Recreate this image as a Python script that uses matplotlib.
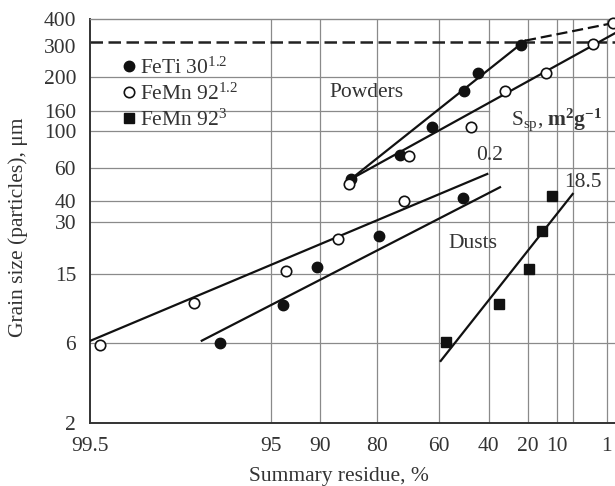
import numpy as np
import matplotlib
matplotlib.use("Agg")
from matplotlib import pyplot as plt
from matplotlib.lines import Line2D
from matplotlib.transforms import offset_copy

plt.rcParams['font.family'] = ['Liberation Serif', 'DejaVu Serif']
plt.rcParams['mathtext.fontset'] = 'custom'
plt.rcParams['mathtext.rm'] = 'Liberation Serif'
plt.rcParams['mathtext.it'] = 'Liberation Serif:italic'
plt.rcParams['mathtext.bf'] = 'Liberation Serif:bold'

# axis ticks (summary residue %, grain size um)
x_ticks = [99.5, 95, 90, 80, 60, 40, 20, 10, 5, 1]
x_labels = ['99.5', '95', '90', '80', '60', '40', '20', '10', '', '1']
y_ticks = [2, 6, 15, 30, 40, 60, 100, 160, 200, 300, 400]

# FeTi 30 (filled circles)
feti_pow_r = [85.3, 73.7, 62.8, 50.2, 44.7, 23.6]
feti_pow_d = [52.3, 71.6, 110.6, 182, 208, 289.5]
feti_dust_r = [97.37, 94.07, 90.45, 79.37, 50.85]
feti_dust_d = [6.05, 9.9, 16.5, 25.1, 41.6]

# FeMn 92 (open circles)
femn_pow_r = [85.6, 70.8, 47.5, 31.5, 13.5, 2.07]
femn_pow_d = [49.2, 70.9, 109, 182, 208, 293]
femn_dust_r = [99.43, 98.11, 93.79, 87.44, 72.42]
femn_dust_d = [5.86, 10.2, 15.7, 23.9, 40.1]

# FeMn 92^3 (squares)
sq_r = [57.33, 34.62, 19.60, 14.65, 11.33]
sq_d = [6.13, 10.1, 16.1, 26.7, 42.5]

# fitted lines (residue, size) end points
feti_pow_line = ([85.3, 21.5], [52.3, 305])
feti_pow_extra = ([21.5, 0.68], [305, 380])
femn_pow_line = ([85.3, 0.595], [52.3, 335])
femn_dust_line = ([99.5, 40.6], [6.19, 55.6])
feti_dust_line = ([97.91, 34.09], [6.21, 47.3])
sq_line = ([59.28, 5.14], [4.71, 43.6])

# the printed grid is not evenly spaced: map ticks to their measured places
X_POS = [0, 180.7, 230, 286.7, 348.7, 398.7, 438.3, 466.7, 483.3, 516.7]
Y_POS = [0, 80, 149.3, 201, 222.3, 255.6, 292.3, 312.3, 346.6, 381.3, 404.3]


def _lin(u, xp, fp):
    u = np.asarray(u, dtype=float)
    xp = np.asarray(xp, float)
    fp = np.asarray(fp, float)
    out = np.interp(u, xp, fp)
    s0 = (fp[1] - fp[0]) / (xp[1] - xp[0])
    s1 = (fp[-1] - fp[-2]) / (xp[-1] - xp[-2])
    out = np.where(u < xp[0], fp[0] + (u - xp[0]) * s0, out)
    out = np.where(u > xp[-1], fp[-1] + (u - xp[-1]) * s1, out)
    return out


def _rr(r):
    r = np.clip(np.asarray(r, dtype=float), 1e-6, 99.9999)
    return np.log(np.log(100.0 / r))


X_T = _rr(x_ticks)
Y_L = np.log(y_ticks)


# increasing in residue (matplotlib expects monotonic increasing scales)
def x_fwd(r):
    return -_lin(_rr(r), X_T, X_POS)


def x_inv(p):
    return 100.0 * np.exp(-np.exp(_lin(-np.asarray(p, float), X_POS, X_T)))


def y_fwd(v):
    v = np.clip(np.asarray(v, dtype=float), 1e-6, None)
    return _lin(np.log(v), Y_L, Y_POS)


def y_inv(p):
    return np.exp(_lin(p, Y_POS, Y_L))


fig = plt.figure(figsize=(6.15, 4.86), dpi=100)
ax = fig.add_axes([90 / 615, 62.7 / 486, 525 / 615, 404.3 / 486])
ax.set_xscale('function', functions=(x_fwd, x_inv))
ax.set_yscale('function', functions=(y_fwd, y_inv))
ax.set_xlim(99.5, 0.595)
ax.set_ylim(2, 400)

grid_c = '#8a8a8a'
for r in x_ticks[1:]:
    ax.axvline(r, color=grid_c, lw=0.9, zorder=1)
for d in [6, 15, 30, 40, 60, 100, 200]:
    ax.axhline(d, color=grid_c, lw=0.9, zorder=1)
ax.plot([99.5, 40], [160, 160], color=grid_c, lw=0.9, zorder=1)
ax.axhline(300, color='#222222', lw=1.8, ls=(0, (5, 2.2)), zorder=2)

ax.set_xticks(x_ticks)
ax.set_xticklabels(x_labels)
ax.set_yticks(y_ticks)
ax.set_yticklabels([str(v) for v in y_ticks])
ax.minorticks_off()
ax.tick_params(length=0, labelsize=15.5, labelcolor='#333333')
ax.tick_params(axis='x', pad=10)
ax.tick_params(axis='y', pad=10)

# printed label for 300 sits a little below the dashed line
for lbl in ax.get_yticklabels():
    if lbl.get_text() == '300':
        lbl.set_transform(offset_copy(lbl.get_transform(), fig=fig, y=-4, units='dots'))

ax.spines['right'].set_visible(False)
ax.spines['top'].set_color(grid_c)
ax.spines['top'].set_linewidth(1.0)
for s in ['left', 'bottom']:
    ax.spines[s].set_color('#333333')
    ax.spines[s].set_linewidth(1.4)

lw = 1.6
for xs, ys in [feti_pow_line, femn_pow_line, femn_dust_line, feti_dust_line, sq_line]:
    ax.plot(xs, ys, color='#111111', lw=lw, zorder=3)
ax.plot(*feti_pow_extra, color='#111111', lw=1.6, ls=(0, (5, 2.2)), zorder=3)

filled = dict(marker='o', ls='none', ms=7.5, color='#111111', zorder=4)
hollow = dict(marker='o', ls='none', ms=7.5, mfc='white', mec='#111111', mew=1.2, zorder=5)
square = dict(marker='s', ls='none', ms=6.8, color='#111111', zorder=4)

ax.plot(feti_pow_r, feti_pow_d, **filled)
ax.plot(feti_dust_r, feti_dust_d, **filled)
ax.plot(femn_pow_r, femn_pow_d, **hollow)
ax.plot(femn_dust_r, femn_dust_d, **hollow)
ax.plot([0.68], [380], clip_on=False, **hollow)
ax.plot(sq_r, sq_d, **square)

handles = [
    Line2D([], [], **filled),
    Line2D([], [], **hollow),
    Line2D([], [], **square),
]
labels = [r'FeTi 30$^\mathregular{1.2}$', r'FeMn 92$^\mathregular{1.2}$',
          r'FeMn 92$^\mathregular{3}$']
ax.legend(handles, labels, loc='upper left', bbox_to_anchor=(0.057, 0.905),
          frameon=False, fontsize=15.5, handlelength=0.8, handletextpad=0.15,
          labelspacing=0.22, borderpad=0, borderaxespad=0,
          labelcolor='#333333')

tc = '#333333'
ax.text(0.5276, 0.8177, 'Powders', transform=ax.transAxes, fontsize=15.5,
        ha='center', va='center', color=tc)
ax.text(0.802, 0.7502, r'S$_\mathregular{sp}$, $\mathbf{m^{2}g^{-1}}$',
        transform=ax.transAxes, fontsize=15.5, ha='left', va='center', color=tc)
ax.text(0.7301, 0.4452, 'Dusts', transform=ax.transAxes, fontsize=15.5,
        ha='center', va='center', color=tc)
ax.text(0.7619, 0.6636, '0.2', transform=ax.transAxes, fontsize=15.5,
        ha='center', va='center', color=tc)
ax.text(0.9396, 0.5968, '18.5', transform=ax.transAxes, fontsize=15.5,
        ha='center', va='center', color=tc)

fig.text(338.8 / 615, 9.3 / 486, 'Summary residue, %', fontsize=15.5,
         ha='center', va='center', color=tc)
fig.text(18 / 615, (486 - 227) / 486, 'Grain size (particles), \u03bcm',
         fontsize=15.5, rotation=90, ha='center', va='center', color=tc)

fig.savefig('out.png', dpi=100)
